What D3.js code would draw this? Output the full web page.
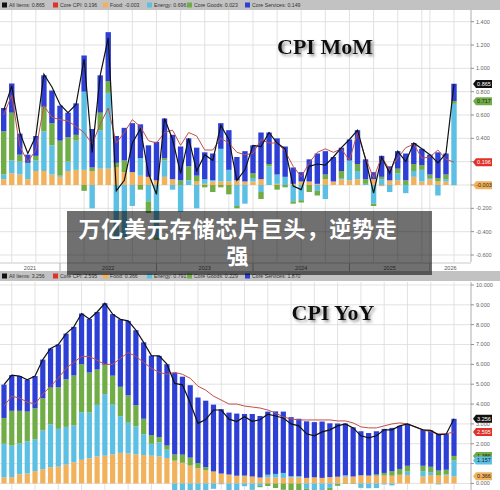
<!DOCTYPE html>
<html>
<head>
<meta charset="utf-8">
<script src="https://cdn.jsdelivr.net/npm/d3@7"></script>
<style>
  html, body { margin: 0; padding: 0; background: #fff; }
  svg { display: block; font-family: "Liberation Sans", Arial, sans-serif; }
</style>
</head>
<body>
<svg id="chart" width="500" height="490"></svg>
<script>
// YoY observations, May 2021 .. Mar 2026 (Oct 2025 left blank)
const months = [
  "2021-05","2021-06","2021-07","2021-08","2021-09","2021-10","2021-11","2021-12",
  "2022-01","2022-02","2022-03","2022-04","2022-05","2022-06","2022-07","2022-08","2022-09","2022-10","2022-11","2022-12",
  "2023-01","2023-02","2023-03","2023-04","2023-05","2023-06","2023-07","2023-08","2023-09","2023-10","2023-11","2023-12",
  "2024-01","2024-02","2024-03","2024-04","2024-05","2024-06","2024-07","2024-08","2024-09","2024-10","2024-11","2024-12",
  "2025-01","2025-02","2025-03","2025-04","2025-05","2025-06","2025-07","2025-08","2025-09","2025-10","2025-11","2025-12",
  "2026-01","2026-02","2026-03"
];
// MoM panel has no Oct / Nov 2025 prints and is plotted per observation
const momMonths = months.filter(m => m !== "2025-10" && m !== "2025-11");

// CPI MoM, contributions (pp)
const momFood     = [.05,.10,.09,.05,.12,.12,.09,.07,.12,.13,.13,.12,.14,.14,.15,.11,.11,.08,.07,.04,.07,.05,.00,.00,.03,.01,.03,.03,.03,.04,.03,.03,.05,.00,.01,.00,.01,.03,.03,.01,.05,.03,.05,.04,.05,.00,.05,-.01,.04,.04,.00,.07,.03,.05,.03,.03,-.003];
const momEnergy   = [.04,.11,.11,.14,.09,.34,.25,.01,.08,.25,.67,-.20,.33,.65,-.47,-.45,-.18,.15,-.14,-.45,.14,-.04,-.23,.04,-.20,.04,.01,.28,.10,-.18,-.16,.03,-.06,.16,.08,.07,-.14,-.13,.00,-.05,-.12,.00,.01,.17,.07,.01,-.16,.05,-.06,.06,-.07,.05,.10,.01,-.09,.02,.696];
const momGoods    = [.37,.41,.06,.00,.04,.21,.19,.30,.21,.05,-.05,.03,.15,.10,.04,.10,.00,-.04,-.10,-.02,.02,.00,.04,.12,.05,-.02,-.06,-.02,-.08,-.02,.00,.04,-.06,.02,-.04,-.02,-.02,-.02,-.06,-.04,.04,.00,.06,.00,.06,.04,-.02,.02,.00,.04,.04,.06,.04,.03,.03,.04,.023];
const momServices = [.20,.25,.18,.07,.17,.27,.28,.30,.21,.27,.31,.33,.32,.42,.23,.28,.42,.29,.27,.33,.34,.38,.29,.24,.24,.23,.23,.22,.34,.20,.26,.24,.40,.27,.31,.26,.14,.08,.19,.26,.20,.21,.20,.18,.29,.17,.06,.18,.12,.15,.23,.18,.14,.17,.22,.18,.149];
const momAll      = [.64,.85,.45,.27,.42,.95,.84,.69,.62,.69,1.08,.28,.94,1.26,-.05,.04,.36,.48,.10,-.08,.57,.39,.10,.40,.12,.26,.21,.51,.39,.04,.13,.34,.33,.45,.36,.31,-.01,-.04,.16,.18,.17,.24,.32,.39,.47,.22,-.07,.24,.10,.29,.20,.36,.31,.26,.19,.27,.865];
const momCore     = [.60,.77,.33,.20,.30,.68,.58,.56,.55,.50,.45,.35,.52,.66,.36,.45,.56,.50,.38,.36,.45,.47,.34,.45,.42,.30,.30,.40,.36,.28,.26,.27,.39,.36,.36,.29,.16,.07,.19,.28,.31,.28,.31,.21,.45,.23,.06,.24,.13,.23,.32,.35,.23,.24,.30,.22,.196];

// CPI YoY, contributions (pp)
const yoyFood     = [.30,.32,.46,.50,.62,.72,.82,.85,.95,1.07,1.19,1.27,1.36,1.40,1.47,1.54,1.51,1.47,1.43,1.40,1.36,1.28,1.15,1.04,.90,.77,.66,.58,.50,.45,.39,.36,.35,.30,.30,.30,.28,.30,.30,.28,.31,.28,.32,.34,.34,.35,.41,.38,.39,.40,.39,.43,.42,null,.35,.42,.40,.40,.366];
const yoyEnergy   = [1.70,1.59,1.55,1.62,1.61,1.95,2.16,1.90,1.90,1.85,2.40,2.30,2.60,3.10,2.50,1.85,1.55,1.40,1.05,.60,.70,.42,-.52,-.41,-.90,-1.30,-.95,-.27,-.04,-.33,-.40,-.14,-.31,-.13,.14,.18,.25,.07,.07,-.27,-.46,-.33,-.22,-.03,.07,-.01,-.21,-.24,-.23,-.05,-.10,.01,.18,null,.27,.15,-.05,.05,.791];
const yoyGoods    = [1.30,1.75,1.65,1.50,1.56,1.62,1.85,2.10,2.40,2.52,2.42,2.02,1.78,1.48,1.46,1.48,1.38,1.07,.78,.44,.27,.21,.31,.41,.40,.26,.16,.04,.00,.00,.00,.04,-.06,-.06,-.13,-.23,-.32,-.34,-.36,-.36,-.23,-.19,-.11,-.09,-.02,-.02,-.02,.02,.06,.13,.23,.29,.29,null,.27,.27,.25,.24,.229];
const yoyServices = [1.68,1.80,1.75,1.60,1.62,1.95,1.97,2.15,2.30,2.45,2.55,2.70,2.90,3.10,3.10,3.40,3.75,3.78,3.85,4.00,4.10,4.10,4.10,3.93,3.65,3.30,3.35,3.35,3.24,3.12,3.13,3.10,3.15,3.10,3.18,3.15,3.09,2.97,2.89,2.85,2.78,2.84,2.71,2.68,2.61,2.48,2.22,2.14,2.18,2.22,2.18,2.17,2.11,null,1.81,1.83,1.85,1.80,1.870];
const yoyAll      = [4.98,5.46,5.41,5.22,5.41,6.24,6.80,7.00,7.55,7.89,8.56,8.29,8.64,9.08,8.53,8.27,8.19,7.72,7.11,6.44,6.43,6.01,5.04,4.97,4.05,3.03,3.22,3.70,3.70,3.24,3.12,3.36,3.13,3.21,3.49,3.40,3.30,3.00,2.90,2.50,2.40,2.60,2.70,2.90,3.00,2.80,2.40,2.30,2.40,2.70,2.70,2.90,3.00,null,2.70,2.67,2.45,2.49,3.256];
const yoyCore     = [3.9,4.4,4.3,4.1,4.0,4.5,4.9,5.3,5.8,6.1,6.4,6.4,6.2,6.0,6.0,6.3,6.6,6.4,6.1,5.8,5.6,5.5,5.6,5.5,5.3,4.9,4.7,4.4,4.2,4.0,4.0,3.9,3.85,3.8,3.7,3.55,3.35,3.25,3.2,3.2,3.2,3.2,3.2,3.15,3.15,3.05,2.85,2.8,2.8,2.9,3.0,3.05,3.0,null,2.7,2.6,2.5,2.5,2.595];

const momTicks = [-0.6,-0.4,-0.2,0,0.2,0.4,0.6,0.8,1.0,1.2,1.4];
const yoyTicks = [0,1,2,3,4,5,6,7,8,9,10];
const years = ["2021","2022","2023","2024","2025","2026"];

const momLegend = ["All Items: 0.865","Core CPI: 0.196","Food: -0.003","Energy: 0.696","Core Goods: 0.023","Core Services: 0.149"];
const yoyLegend = ["All Items: 3.256","Core CPI: 2.595","Food: 0.366","Energy: 0.791","Core Goods: 0.229","Core Services: 1.870"];
const momTags = [[0.865,"0.865","#111","#fff"],[0.717,"0.717","#70ad47","#222"],[0.196,"0.196","#e0322a","#fff"],[-0.003,"-0.003","#f2b25c","#222"]];
const yoyTags = [[3.256,"3.256","#111","#fff"],[2.595,"2.595","#e0322a","#fff"],[1.386,"1.386","#70ad47","#222"],[1.157,"1.157","#5bc0e3","#222"],[0.366,"0.366","#f2b25c","#222"]];
const headline = ["万亿美元存储芯片巨头，逆势走", "强"];

const keys = ["food","energy","goods","services"];
const colors = {food:"#f2b25c", energy:"#5bc0e3", goods:"#70ad47", services:"#2e3fd6"};
const legendColors = ["#111","#e0322a","#f2b25c","#5bc0e3","#70ad47","#2e3fd6"];
const legendX = [2,53,103,147,187,245];

const svg = d3.select("#chart");
const axisX = 471;

const defs = svg.append("defs");
const shadow = defs.append("filter").attr("id", "shadow")
  .attr("x", "-10%").attr("y", "-20%").attr("width", "130%").attr("height", "160%");
shadow.append("feDropShadow").attr("dx", 2).attr("dy", 2)
  .attr("stdDeviation", 1.6).attr("flood-color", "#777").attr("flood-opacity", 0.8);

function drawPanel(opt) {
  const x = d3.scalePoint().domain(opt.months).range(opt.xRange);
  const y = d3.scaleLinear().domain(opt.domain).range([opt.bottom, opt.top]);
  const g = svg.append("g");
  const clipId = "clip" + opt.id;
  defs.append("clipPath").attr("id", clipId)
    .append("rect").attr("x", 0).attr("y", opt.top).attr("width", axisX).attr("height", opt.bottom - opt.top);

  // grid: value lines and quarter-end observations
  const grid = g.append("g").attr("clip-path", `url(#${clipId})`);
  grid.selectAll("line.h").data(opt.ticks).join("line")
    .attr("x1", 0).attr("x2", axisX).attr("y1", d => y(d)).attr("y2", d => y(d))
    .attr("stroke", "#dadada").attr("stroke-width", 0.8);
  const quarters = opt.months.filter(m => ["03","06","09","12"].includes(m.slice(5)));
  grid.selectAll("line.v").data(quarters).join("line")
    .attr("x1", d => x(d)).attr("x2", d => x(d)).attr("y1", opt.top).attr("y2", opt.bottom)
    .attr("stroke", "#dadada").attr("stroke-width", 0.8);

  // stacked bars
  const rows = opt.months.map((m, i) => opt.food[i] == null ? null :
      {m, food: opt.food[i], energy: opt.energy[i], goods: opt.goods[i], services: opt.services[i]})
    .filter(d => d);
  const series = d3.stack().keys(keys).offset(d3.stackOffsetDiverging)(rows);
  const plot = g.append("g").attr("clip-path", `url(#${clipId})`);
  plot.selectAll("g.s").data(series).join("g")
    .attr("fill", d => colors[d.key])
    .selectAll("rect").data(d => d).join("rect")
    .attr("x", d => x(d.data.m) - opt.barW / 2)
    .attr("width", opt.barW)
    .attr("y", d => y(Math.max(d[0], d[1])))
    .attr("height", d => Math.abs(y(d[0]) - y(d[1])));

  // lines (drawn across the missing print)
  const pts = v => opt.months.map((m, i) => ({m, v: v[i]})).filter(d => d.v != null);
  const line = d3.line().x(d => x(d.m)).y(d => y(d.v));
  plot.append("path").datum(pts(opt.core))
    .attr("fill", "none").attr("stroke", "#c0504d").attr("stroke-width", 1).attr("d", line);
  plot.append("path").datum(pts(opt.all))
    .attr("fill", "none").attr("stroke", "#111").attr("stroke-width", 1.2).attr("d", line);

  // right axis; labels sitting under a value tag are hidden, as in the source
  g.append("line").attr("x1", axisX).attr("x2", axisX).attr("y1", opt.top).attr("y2", opt.bottom)
    .attr("stroke", "#9a9a9a").attr("stroke-width", 0.8);
  const tk = g.selectAll("g.tick").data(opt.ticks).join("g")
    .attr("transform", d => `translate(${axisX},${y(d)})`);
  tk.append("line").attr("x1", 0).attr("x2", 3).attr("stroke", "#777").attr("stroke-width", 0.8);
  tk.filter(d => !opt.tags.some(t => Math.abs(y(t[0]) - y(d)) < 4.5))
    .append("text").attr("x", 5).attr("dy", "0.35em")
    .attr("font-size", 5.5).attr("fill", "#666")
    .text(d => d3.format(".3f")(d).replace("−", "-"));

  // last value tags
  const tags = g.selectAll("g.tag").data(opt.tags).join("g")
    .attr("transform", d => `translate(${axisX + 2},${y(d[0])})`);
  tags.append("path").attr("d", "M0,0L3,-4L19,-4L19,4L3,4Z").attr("fill", d => d[2]);
  tags.append("text").attr("x", 11).attr("dy", "0.35em").attr("text-anchor", "middle")
    .attr("font-size", 5.5).attr("fill", d => d[3]).text(d => d[1]);

  // legend band
  g.append("rect").attr("x", 0).attr("y", opt.legendY).attr("width", 500).attr("height", 10).attr("fill", "#c2c2c2");
  const lg = g.selectAll("g.lg").data(opt.legend).join("g")
    .attr("transform", (d, i) => `translate(${legendX[i]},${opt.legendY + 5})`);
  lg.append("rect").attr("x", 0).attr("y", -2.5).attr("width", 5).attr("height", 5).attr("fill", (d, i) => legendColors[i]);
  lg.append("text").attr("x", 7).attr("dy", "0.35em").attr("font-size", 5.2).attr("fill", "#333").text(d => d);

  // title
  g.append("text").attr("x", opt.titleX).attr("y", opt.titleY).attr("text-anchor", "middle")
    .attr("font-family", "'Liberation Serif', 'Times New Roman', serif")
    .attr("font-weight", 700).attr("font-size", 22).attr("fill", "#111")
    .attr("filter", "url(#shadow)").text(opt.title);
  return x;
}

const xm = drawPanel({
  id: "mom", months: momMonths, xRange: [3.7, 454], barW: 5.4,
  top: 10, bottom: 262, domain: [-0.66, 1.5], ticks: momTicks,
  food: momFood, energy: momEnergy, goods: momGoods, services: momServices,
  all: momAll, core: momCore, tags: momTags, legend: momLegend, legendY: 0,
  title: "CPI MoM", titleX: 325, titleY: 54
});

// year axis under the MoM panel: ticks at each December print
const xa = svg.append("g");
xa.append("line").attr("x1", 0).attr("x2", axisX).attr("y1", 263).attr("y2", 263)
  .attr("stroke", "#bbb").attr("stroke-width", 0.8);
const yearEnds = years.slice(0, -1).map(yr => xm(yr + "-12"));
xa.selectAll("line.yt").data(yearEnds).join("line")
  .attr("x1", d => d).attr("x2", d => d)
  .attr("y1", 263).attr("y2", 271).attr("stroke", "#999").attr("stroke-width", 0.8);
xa.selectAll("text").data(years).join("text")
  .attr("x", (d, i) => ((i === 0 ? 0 : yearEnds[i - 1]) + (i < yearEnds.length ? yearEnds[i] : axisX)) / 2)
  .attr("y", 270).attr("text-anchor", "middle").attr("font-size", 5.5).attr("fill", "#555")
  .text(d => d);

drawPanel({
  id: "yoy", months: months, xRange: [4, 454], barW: 5.2,
  top: 282, bottom: 490, domain: [-0.33, 10.15], ticks: yoyTicks,
  food: yoyFood, energy: yoyEnergy, goods: yoyGoods, services: yoyServices,
  all: yoyAll, core: yoyCore, tags: yoyTags, legend: yoyLegend, legendY: 271,
  title: "CPI YoY", titleX: 333, titleY: 320
});

// headline banner, one wrapped text block
const banner = svg.append("g");
banner.append("rect").attr("x", 67).attr("y", 211).attr("width", 365).attr("height", 64)
  .attr("fill", "rgba(0,0,0,0.56)");
banner.append("text")
  .attr("y", 237).attr("text-anchor", "middle")
  .attr("font-family", "'Noto Sans CJK SC', sans-serif").attr("font-weight", 700)
  .attr("font-size", 22).attr("letter-spacing", 0.8).attr("fill", "#fff")
  .selectAll("tspan").data(headline).join("tspan")
  .attr("x", 238).attr("dy", (d, i) => i === 0 ? 0 : 27)
  .text(d => d);
</script>
</body>
</html>
